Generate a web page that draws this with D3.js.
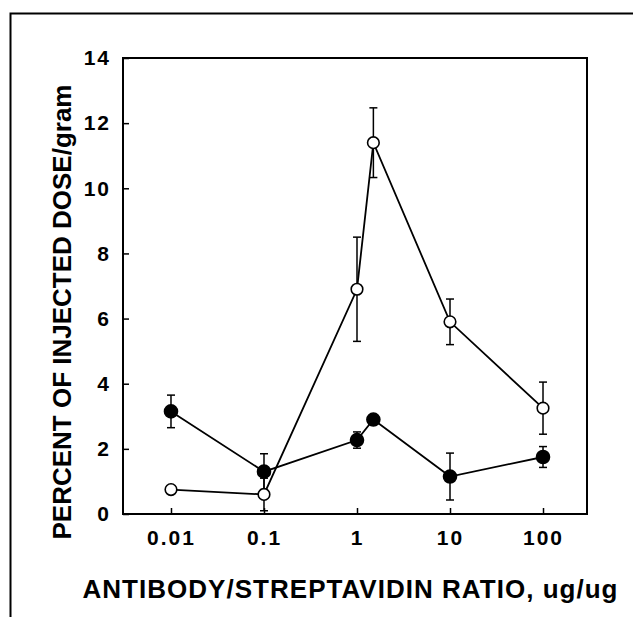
<!DOCTYPE html>
<html>
<head>
<meta charset="utf-8">
<script src="https://cdn.jsdelivr.net/npm/d3@7"></script>
<style>
  html, body { margin: 0; padding: 0; background: #fff; }
  svg { display: block; }
  text { font-family: "Liberation Sans", Arial, sans-serif; fill: #000; }
</style>
</head>
<body>
<svg id="chart"></svg>
<script>
const W = 633, H = 617;

// data
const ratios = [0.01, 0.1, 1, 1.5, 10, 100];
const openMean = [0.75, 0.6, 6.9, 11.4, 5.9, 3.25];
const openErr = [0, 0.5, 1.6, 1.07, 0.7, 0.8];
const filledMean = [3.15, 1.3, 2.27, 2.9, 1.15, 1.75];
const filledErr = [0.5, 0.55, 0.25, 0, 0.72, 0.32];
const xTicks = [0.01, 0.1, 1, 10, 100];
const xTickLabels = ["0.01", "0.1", "1", "10", "100"];
const yTicks = [0, 2, 4, 6, 8, 10, 12, 14];
const xTitle = "ANTIBODY/STREPTAVIDIN RATIO, ug/ug";
const yTitle = "PERCENT OF INJECTED DOSE/gram";

const M = { left: 123, top: 58, right: 587, bottom: 514 };

const svg = d3.select("#chart").attr("width", W).attr("height", H);

// outer frame (top and left edges only visible)
svg.append("path")
  .attr("d", `M10.5,${H} L10.5,13.5 L${W},13.5`)
  .attr("fill", "none").attr("stroke", "#000").attr("stroke-width", 2);

const x = d3.scaleLog().domain([Math.pow(10, -2.516), Math.pow(10, 2.473)]).range([M.left, M.right]);
const y = d3.scaleLinear().domain([0, 14]).range([M.bottom, M.top]);

// axes with inward ticks
const xAxis = d3.axisBottom(x).tickValues(xTicks).tickSize(-6).tickPadding(16)
  .tickFormat((d, i) => xTickLabels[i]);
const yAxis = d3.axisLeft(y).tickValues(yTicks).tickSize(-6).tickPadding(12);

const gx = svg.append("g").attr("transform", `translate(0,${M.bottom})`).call(xAxis);
const gy = svg.append("g").attr("transform", `translate(${M.left},0)`).call(yAxis);
[gx, gy].forEach(g => {
  g.select(".domain").remove();
  g.selectAll(".tick line").attr("stroke", "#000").attr("stroke-width", 1.5);
  g.selectAll(".tick text").attr("font-size", 21).attr("font-weight", "bold")
    .style("letter-spacing", "2px");
});

// plot box
svg.append("rect")
  .attr("x", M.left).attr("y", M.top)
  .attr("width", M.right - M.left).attr("height", M.bottom - M.top)
  .attr("fill", "none").attr("stroke", "#000").attr("stroke-width", 2);

// axis titles
svg.append("text")
  .attr("x", 350).attr("y", 598)
  .attr("text-anchor", "middle")
  .attr("font-size", 26).attr("font-weight", "bold")
  .attr("textLength", 535).attr("lengthAdjust", "spacing")
  .text(xTitle);

svg.append("text")
  .attr("transform", "translate(71,312) rotate(-90)")
  .attr("text-anchor", "middle")
  .attr("font-size", 26).attr("font-weight", "bold")
  .attr("textLength", 455).attr("lengthAdjust", "spacing")
  .text(yTitle);

function drawSeries(means, errs, filled) {
  const pts = ratios.map((r, i) => ({ r, m: means[i], e: errs[i] }));
  const line = d3.line().x(d => x(d.r)).y(d => y(d.m));
  svg.append("path").datum(pts)
    .attr("d", line)
    .attr("fill", "none").attr("stroke", "#000").attr("stroke-width", 1.8);

  const eb = svg.append("g").attr("stroke", "#000").attr("stroke-width", 1.5);
  pts.filter(d => d.e > 0).forEach(d => {
    const cx = x(d.r), y1 = y(d.m + d.e), y0 = y(d.m - d.e);
    eb.append("line").attr("x1", cx).attr("x2", cx).attr("y1", y1).attr("y2", y0);
    eb.append("line").attr("x1", cx - 4).attr("x2", cx + 4).attr("y1", y1).attr("y2", y1);
    eb.append("line").attr("x1", cx - 4).attr("x2", cx + 4).attr("y1", y0).attr("y2", y0);
  });

  svg.append("g").selectAll("circle").data(pts).join("circle")
    .attr("cx", d => x(d.r)).attr("cy", d => y(d.m))
    .attr("r", filled ? 6.5 : 5.8)
    .attr("fill", filled ? "#000" : "#fff")
    .attr("stroke", "#000").attr("stroke-width", 1.6);
}

drawSeries(filledMean, filledErr, true);
drawSeries(openMean, openErr, false);
</script>
</body>
</html>
